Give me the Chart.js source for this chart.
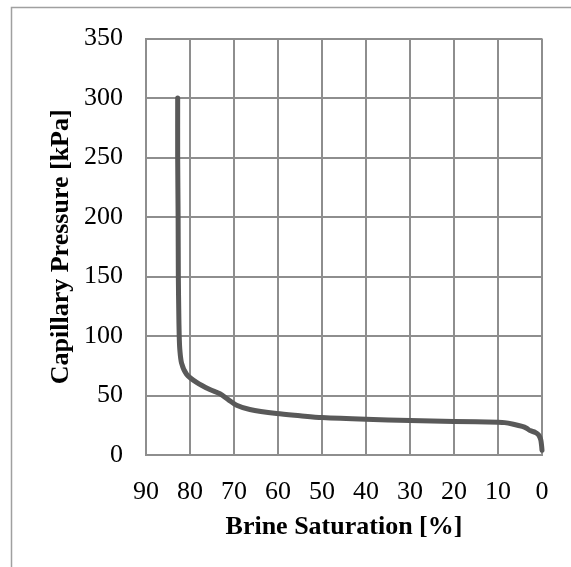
<!DOCTYPE html>
<html>
<head>
<meta charset="utf-8">
<script src="https://cdn.jsdelivr.net/npm/chart.js@4"></script>
<style>
  html, body { margin: 0; padding: 0; background: #fff; }
  #wrap { width: 571px; height: 567px; position: relative; }
</style>
</head>
<body>
<div id="wrap"><canvas id="myChart" width="571" height="567"></canvas></div>
<script>
// --- data ---
const saturation = [82.8, 82.8, 82.7, 82.65, 82.55, 82.45, 82.3, 81.9, 80.8, 78.5, 75.5, 73.2, 71.3, 69.4, 66.4, 60.3, 55, 50, 40, 30, 20, 10, 8.5, 6.5, 4.5, 3.5, 2.7, 1.5, 0.8, 0.3, 0.1, 0];
const pressure   = [300, 250, 200, 150, 120, 100, 88, 77, 68, 61, 55, 51.5, 46.5, 41.8, 38.2, 34.8, 33, 31.5, 30, 29, 28.2, 27.5, 27.2, 25.8, 24, 22.5, 20.5, 19, 17, 13, 8, 4];
const xTicks = [90, 80, 70, 60, 50, 40, 30, 20, 10, 0];
const yTicks = [0, 50, 100, 150, 200, 250, 300, 350];

const points = saturation.map((s, i) => ({ x: s, y: pressure[i] }));

const gridColor = '#8e8e8e';
const serif = "'Liberation Serif', 'Times New Roman', serif";

// outer chart-area frame (only top and left edges visible)
const framePlugin = {
    id: 'frame',
    beforeDraw(chart) {
        const c = chart.ctx;
        c.save();
        c.strokeStyle = '#a0a0a0';
        c.lineWidth = 1.5;
        c.beginPath();
        c.moveTo(11.5, 567);
        c.lineTo(11.5, 7.5);
        c.lineTo(571, 7.5);
        c.stroke();
        c.restore();
    }
};

const ctx = document.getElementById('myChart').getContext('2d');
new Chart(ctx, {
    type: 'scatter',
    data: {
        datasets: [{
            data: points,
            showLine: true,
            borderColor: '#595959',
            borderWidth: 5,
            borderCapStyle: 'round',
            borderJoinStyle: 'round',
            pointRadius: 0,
            tension: 0.3,
            clip: false
        }]
    },
    options: {
        responsive: false,
        animation: false,
        layout: { padding: { top: 36, right: 29, bottom: 0, left: 0 } },
        plugins: { legend: { display: false }, tooltip: { enabled: false } },
        scales: {
            x: {
                type: 'linear',
                reverse: true,
                min: 0, max: 90,
                afterBuildTicks: s => { s.ticks = xTicks.map(v => ({ value: v })); },
                afterFit: s => { s.height = 112; },
                grid: { color: gridColor, lineWidth: 2, drawTicks: false },
                border: { color: gridColor, width: 2 },
                ticks: { color: '#000', padding: 22, maxRotation: 0, font: { family: serif, size: 26 } },
                title: { display: true, text: 'Brine Saturation [%]', color: '#000',
                         padding: { bottom: 24 }, font: { family: serif, size: 26, weight: 'bold' } }
            },
            y: {
                min: 0, max: 350,
                afterBuildTicks: s => { s.ticks = yTicks.map(v => ({ value: v })); },
                afterFit: s => { s.width = 146; },
                grid: { color: gridColor, lineWidth: 2, drawTicks: false },
                border: { color: gridColor, width: 2 },
                ticks: { color: '#000', padding: 23, font: { family: serif, size: 26 } },
                title: { display: true, text: 'Capillary Pressure [kPa]', color: '#000',
                         padding: { top: 46 }, font: { family: serif, size: 26, weight: 'bold' } }
            }
        }
    },
    plugins: [framePlugin]
});
</script>
</body>
</html>
